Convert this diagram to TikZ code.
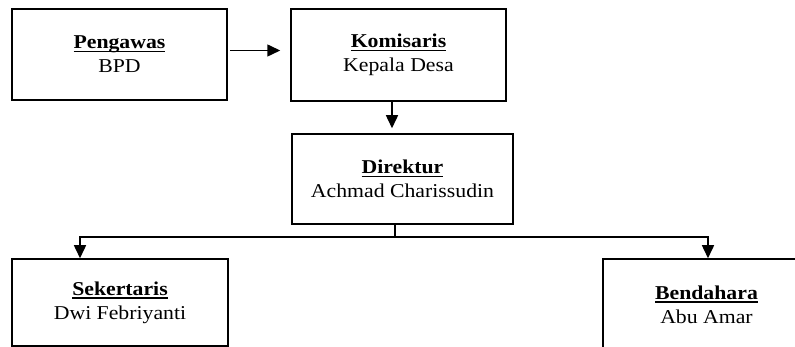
\documentclass[tikz,border=0pt]{standalone}
\usepackage{fontspec}
\setmainfont{Liberation Serif}[FakeStretch=1.11]
\usetikzlibrary{arrows.meta,positioning,calc}
\newcommand\myul[1]{\setbox0\hbox{#1}\rlap{\rule[-3.4pt]{\wd0}{1.3pt}}\box0}
\tikzset{
  orgbox/.style={draw, line width=1.5pt, align=center, inner sep=0pt,
    font=\fontsize{19.6}{24}\selectfont},
  link/.style={line width=1.5pt},
  arr/.style={link, -{Triangle[length=13pt,width=12pt]}}
}
\begin{document}
\begin{tikzpicture}[x=1pt,y=-1pt]
\useasboundingbox (0,0) rectangle (795,347);
\clip (0,0) rectangle (795,347);
\node[orgbox, minimum width=215pt, minimum height=91pt] (peng) at (119.5,54.5)
  {\textbf{\myul{Pengawas}}\\BPD};
\node[orgbox, minimum width=215pt, minimum height=92pt] (komi) at (398.5,55)
  {\textbf{\myul{Komisaris}}\\Kepala Desa};
\node[orgbox, minimum width=221pt, minimum height=90pt] (dir) at (402.5,179)
  {\textbf{\myul{Direktur}}\\Achmad Charissudin};
\node[orgbox, minimum width=216pt, minimum height=87pt] (sek) at (120,302.5)
  {\textbf{\myul{Sekertaris}}\\Dwi Febriyanti};
\node[orgbox, minimum width=207pt, minimum height=91pt] (bend) at (706.5,304.5)
  {\textbf{\myul{Bendahara}}\\Abu Amar};
\coordinate (j) at (395,237);
\draw[arr, shorten <=2pt, shorten >=10pt] ([yshift=4]peng.east) -- ([yshift=4]peng.east -| komi.west);
\draw[arr, shorten >=5pt] ([xshift=-6.5]komi.south) -- ([xshift=-6.5]komi.south |- dir.north);
\draw[link] (dir.south -| j) -- (j);
\draw[arr] (j) -| ([xshift=-40]sek.north);
\draw[arr] (j) -| ([xshift=1.5]bend.north);
\end{tikzpicture}
\end{document}
